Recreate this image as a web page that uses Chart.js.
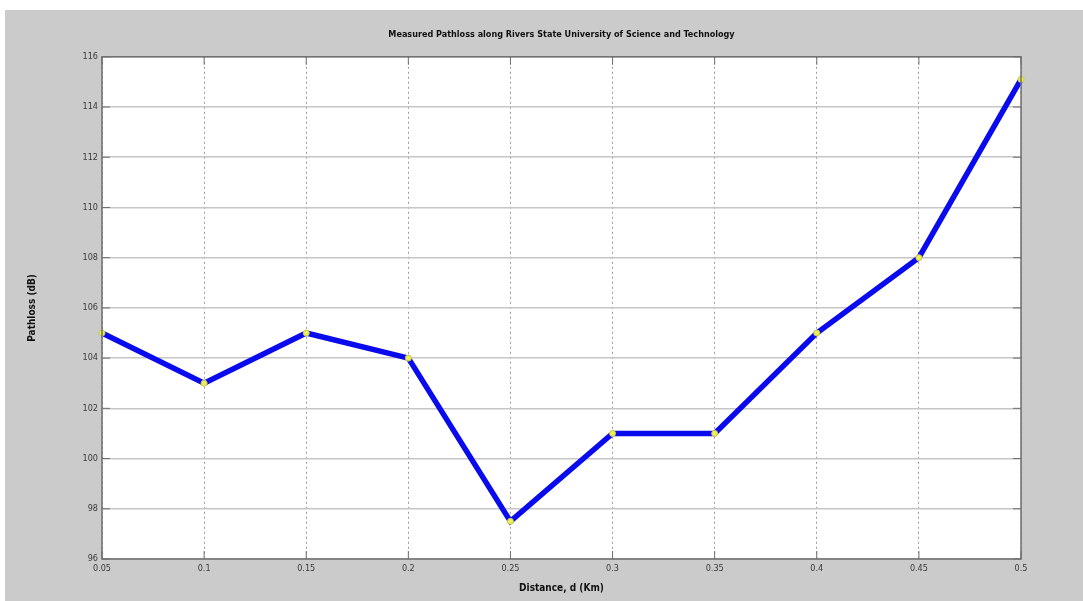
<!DOCTYPE html>
<html>
<head>
<meta charset="utf-8">
<script src="https://cdn.jsdelivr.net/npm/chart.js@4.4.1/dist/chart.umd.min.js"></script>
<style>
  html, body { margin: 0; padding: 0; background: #ffffff; }
  #wrap { position: absolute; left: 0; top: 0; width: 1083px; height: 601px; }
</style>
</head>
<body>
<div id="wrap"><canvas id="c" width="1083" height="601"></canvas></div>
<script>
// Measured pathloss (dB) against distance (km)
const distances = [0.05, 0.1, 0.15, 0.2, 0.25, 0.3, 0.35, 0.4, 0.45, 0.5];
const pathloss  = [105, 103, 105, 104, 97.5, 101, 101, 105, 108, 115.1];
const xTickLabels = ['0.05', '0.1', '0.15', '0.2', '0.25', '0.3', '0.35', '0.4', '0.45', '0.5'];
const yTickValues = [96, 98, 100, 102, 104, 106, 108, 110, 112, 114, 116];

const FONT = "'Liberation Sans Narrow', 'DejaVu Sans Condensed', 'Liberation Sans', sans-serif";

// grey figure window behind a white axes box, with inward tick marks
const figureBackground = {
  id: 'figureBackground',
  beforeDraw(chart) {
    const { ctx, chartArea: a } = chart;
    ctx.save();
    ctx.fillStyle = '#ffffff';
    ctx.fillRect(0, 0, chart.width, chart.height);
    ctx.fillStyle = '#cbcbcb';
    ctx.fillRect(5, 10, chart.width - 5, chart.height - 10);
    ctx.fillStyle = '#ffffff';
    ctx.fillRect(a.left, a.top, a.right - a.left, a.bottom - a.top);
    ctx.restore();
  },
  afterDatasetsDraw(chart) {
    const { ctx, chartArea: a, scales } = chart;
    ctx.save();
    ctx.strokeStyle = '#6e6e6e';
    ctx.lineWidth = 1.5;
    ctx.strokeRect(a.left, a.top, a.right - a.left, a.bottom - a.top);
    ctx.lineWidth = 1;
    ctx.beginPath();
    distances.forEach(d => {
      const x = scales.x.getPixelForValue(d);
      ctx.moveTo(x, a.bottom); ctx.lineTo(x, a.bottom - 8);
      ctx.moveTo(x, a.top); ctx.lineTo(x, a.top + 8);
    });
    yTickValues.forEach(v => {
      const y = scales.y.getPixelForValue(v);
      ctx.moveTo(a.left, y); ctx.lineTo(a.left + 8, y);
      ctx.moveTo(a.right, y); ctx.lineTo(a.right - 8, y);
    });
    ctx.stroke();
    ctx.restore();
  }
};

new Chart(document.getElementById('c'), {
  type: 'line',
  data: {
    datasets: [{
      data: distances.map((d, i) => ({ x: d, y: pathloss[i] })),
      borderColor: '#0a0aee',
      borderWidth: 5.5,
      tension: 0,
      pointRadius: 3,
      pointBackgroundColor: '#eeee55',
      pointBorderColor: '#c9c94a',
      pointBorderWidth: 1,
      clip: false
    }]
  },
  options: {
    responsive: false,
    animation: false,
    events: [],
    layout: { padding: { left: 0, right: 62, top: 3, bottom: 0 } },
    plugins: {
      legend: { display: false },
      tooltip: { enabled: false },
      title: {
        display: true,
        fullSize: false,
        text: 'Measured Pathloss along Rivers State University of Science and Technology',
        color: '#111111',
        font: { family: FONT, size: 9, weight: 'bold' },
        padding: { top: 26, bottom: 17 }
      }
    },
    scales: {
      x: {
        type: 'linear',
        min: 0.05,
        max: 0.5,
        afterBuildTicks(scale) { scale.ticks = distances.map(v => ({ value: v })); },
        afterFit(scale) { scale.height = 42; },
        ticks: {
          color: '#3a3a3a',
          font: { family: FONT, size: 9 },
          padding: 4,
          maxRotation: 0,
          autoSkip: false,
          callback: (v, i) => xTickLabels[i]
        },
        grid: {
          color: '#9a9a9a',
          lineWidth: 1,
          drawTicks: false
        },
        // dotted vertical grid lines
        border: { display: false, dash: [2, 3] },
        title: {
          display: true,
          text: 'Distance, d (Km)',
          color: '#111111',
          font: { family: FONT, size: 10, weight: 'bold' },
          padding: { top: 0, bottom: 7 }
        }
      },
      y: {
        min: 96,
        max: 116,
        afterBuildTicks(scale) { scale.ticks = yTickValues.map(v => ({ value: v })); },
        afterFit(scale) { scale.width = 102; },
        ticks: {
          color: '#3a3a3a',
          font: { family: FONT, size: 9 },
          padding: 4,
          autoSkip: false
        },
        grid: {
          color: '#c6c6c6',
          lineWidth: 1.5,
          drawTicks: false
        },
        border: { display: false },
        title: {
          display: true,
          text: 'Pathloss (dB)',
          color: '#111111',
          font: { family: FONT, size: 10, weight: 'bold' },
          padding: { top: 26, bottom: 0 }
        }
      }
    }
  },
  plugins: [figureBackground]
});
</script>
</body>
</html>
